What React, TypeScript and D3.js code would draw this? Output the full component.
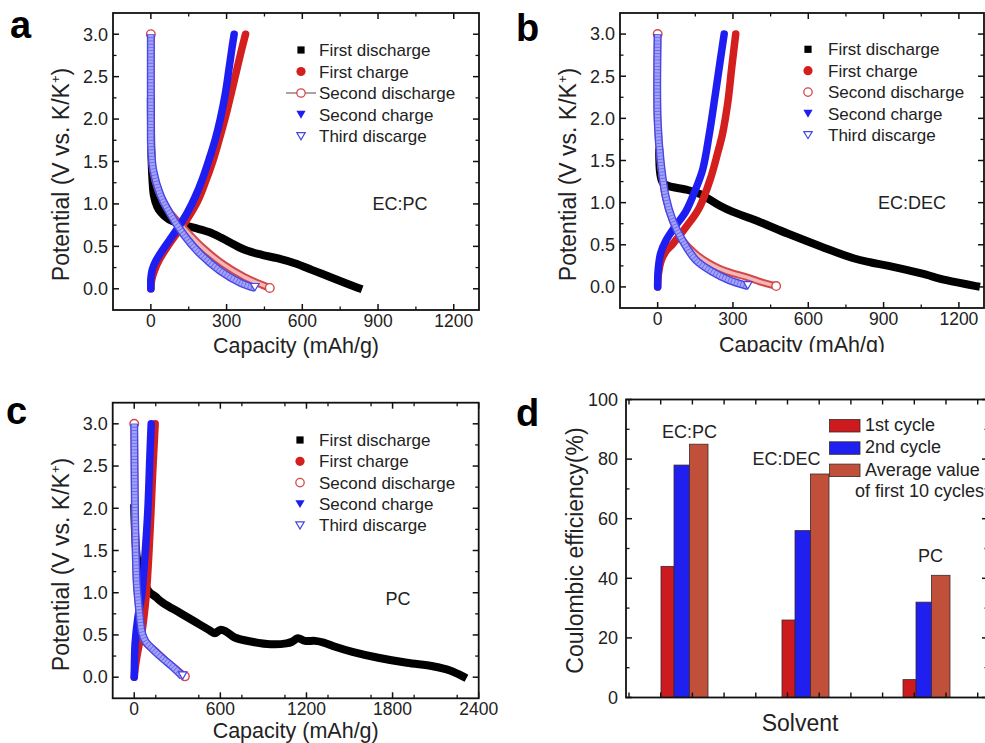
import React from 'react';
import * as d3 from 'd3';

type Pt = [number, number];

const FONT = '"Liberation Sans", Arial, Helvetica, sans-serif';

const seriesNames = ['First discharge', 'First charge', 'Second discharge', 'Second charge', 'Third discarge'];
const yTickValues = [0, 0.5, 1.0, 1.5, 2.0, 2.5, 3.0];
const xTicksAB = [0, 300, 600, 900, 1200];
const xTicksC = [0, 600, 1200, 1800, 2400];

// ---------- Panel a : EC:PC ----------
const aFirstDischarge: Pt[] = [[0, 2.2], [2, 1.6], [6, 1.3], [12, 1.1], [25, 0.97], [40, 0.9], [70, 0.82], [110, 0.77], [170, 0.72], [230, 0.67], [280, 0.6], [330, 0.52], [380, 0.45], [440, 0.4], [500, 0.36], [570, 0.3], [640, 0.22], [700, 0.15], [760, 0.08], [822, 0.01]];
const aFirstCharge: Pt[] = [[0, 0.0], [3, 0.1], [15, 0.22], [35, 0.35], [60, 0.47], [90, 0.6], [120, 0.72], [150, 0.85], [185, 1.03], [215, 1.25], [245, 1.5], [270, 1.75], [295, 2.02], [318, 2.3], [338, 2.55], [358, 2.8], [375, 3.0]];
const aSecondDischarge: Pt[] = [[0, 3.0], [0, 2.0], [1, 1.7], [8, 1.4], [30, 1.15], [70, 0.92], [129, 0.72], [200, 0.5], [287, 0.29], [370, 0.14], [430, 0.06], [471, 0.01]];
const aSecondCharge: Pt[] = [[0, 0.0], [0, 0.12], [5, 0.22], [20, 0.33], [45, 0.45], [75, 0.58], [110, 0.73], [145, 0.9], [175, 1.08], [205, 1.3], [230, 1.52], [255, 1.76], [275, 2.0], [295, 2.3], [310, 2.6], [322, 2.85], [330, 3.0]];
const aThirdDischarge: Pt[] = [[0, 3.0], [0, 2.0], [1, 1.66], [10, 1.39], [37, 1.11], [77, 0.88], [130, 0.64], [196, 0.41], [275, 0.21], [355, 0.07], [412, 0.01]];

// ---------- Panel b : EC:DEC ----------
const bFirstDischarge: Pt[] = [[6, 1.6], [10, 1.35], [20, 1.24], [40, 1.2], [120, 1.15], [170, 1.1], [200, 1.05], [250, 0.96], [300, 0.89], [390, 0.79], [520, 0.63], [650, 0.48], [780, 0.34], [850, 0.29], [920, 0.25], [1050, 0.16], [1150, 0.08], [1268, 0.01]];
const bFirstCharge: Pt[] = [[0, 0.0], [3, 0.15], [15, 0.32], [35, 0.43], [60, 0.51], [113, 0.71], [166, 0.94], [212, 1.3], [240, 1.6], [258, 1.81], [280, 2.2], [295, 2.6], [311, 3.0]];
const bSecondDischarge: Pt[] = [[0, 3.0], [0, 1.97], [12, 1.46], [32, 1.06], [58, 0.8], [95, 0.57], [130, 0.45], [160, 0.37], [200, 0.29], [245, 0.22], [300, 0.16], [351, 0.12], [410, 0.06], [472, 0.01]];
const bSecondCharge: Pt[] = [[0, 0.0], [2, 0.2], [12, 0.4], [33, 0.55], [70, 0.72], [113, 0.9], [150, 1.15], [180, 1.4], [205, 1.8], [228, 2.25], [250, 2.7], [265, 3.0]];
const bThirdDischarge: Pt[] = [[0, 3.0], [0, 1.97], [13, 1.46], [33, 1.06], [60, 0.79], [99, 0.55], [152, 0.32], [218, 0.18], [285, 0.08], [359, 0.01]];

// ---------- Panel c : PC ----------
const cFirstDischarge: Pt[] = [[0, 2.0], [20, 1.4], [45, 1.25], [100, 1.02], [150, 0.95], [200, 0.88], [320, 0.76], [430, 0.65], [520, 0.56], [560, 0.52], [600, 0.56], [640, 0.54], [700, 0.47], [820, 0.42], [950, 0.39], [1060, 0.4], [1100, 0.42], [1140, 0.46], [1190, 0.43], [1260, 0.43], [1320, 0.41], [1400, 0.36], [1520, 0.3], [1700, 0.23], [1900, 0.17], [2080, 0.13], [2200, 0.08], [2290, 0.01]];
const cFirstCharge: Pt[] = [[0, 0.0], [10, 0.15], [30, 0.35], [55, 0.55], [70, 0.75], [85, 1.0], [100, 1.4], [115, 1.9], [128, 2.4], [140, 2.8], [146, 3.0]];
const cSecondDischarge: Pt[] = [[0, 3.0], [2, 2.5], [5, 2.0], [10, 1.5], [18, 1.1], [28, 0.9], [40, 0.7], [55, 0.5], [85, 0.4], [140, 0.32], [210, 0.21], [280, 0.11], [353, 0.01]];
const cSecondCharge: Pt[] = [[0, 0.0], [2, 0.2], [6, 0.4], [25, 0.7], [50, 0.95], [73, 1.4], [95, 1.98], [108, 2.57], [118, 3.0]];
const cThirdDischarge: Pt[] = [[0, 3.0], [2, 2.5], [5, 2.0], [10, 1.5], [18, 1.1], [28, 0.9], [40, 0.7], [55, 0.52], [80, 0.42], [130, 0.33], [200, 0.22], [270, 0.12], [337, 0.01]];

// ---------- Panel d : Coulombic efficiency ----------
const solvents = ['EC:PC', 'EC:DEC', 'PC'];
const cycle1 = [44, 26, 6];
const cycle2 = [78, 56, 32];
const avgFirst10 = [85, 75, 41];
const barSeriesNames = ['1st cycle', '2nd cycle', 'Average value'];
const barLegendExtra = 'of first 10 cycles';
const effTicks = [0, 20, 40, 60, 80, 100];

// ---------- styles ----------
const C_BLACK = '#000000';
const C_RED = '#d41f1f';
const C_BLUE = '#1e1ef2';
const C_PINK_OUT = '#d44848';
const C_PINK_IN = '#f2b8b8';
const C_LAV_OUT = '#4646e6';
const C_LAV_IN = '#a3a3f8';
const C_LAV_DASH = '#6a6aee';
const BAR_COLORS = ['#cc1a1e', '#1f1ff0', '#c1503b'];
const BAR_WIDTHS = [13, 15.5, 18.5];

type PanelCfg = {
  l: number; t: number; r: number; b: number;
  xDomain: [number, number]; xTicks: number[]; xMinorStep: number;
  series: Pt[][];
  legend: { mx: number; tx: number; y0: number; dy: number; lineOnOpen: boolean };
  annot: { text: string; x: number; y: number };
  label: { text: string; x: number; y: number };
  yTitleX: number; yTitleDy: number; xTitleY: number;
  clipBottom?: number; id: string;
};

const panels: PanelCfg[] = [
  {
    id: 'a', l: 113, t: 13, r: 479, b: 310, xDomain: [-150, 1300], xTicks: xTicksAB, xMinorStep: 150,
    series: [aFirstDischarge, aFirstCharge, aSecondDischarge, aSecondCharge, aThirdDischarge],
    legend: { mx: 301, tx: 319, y0: 50, dy: 21.5, lineOnOpen: true },
    annot: { text: 'EC:PC', x: 400, y: 210 }, label: { text: 'a', x: 10, y: 38 },
    yTitleX: 69, yTitleDy: 13, xTitleY: 353,
  },
  {
    id: 'b', l: 620, t: 13, r: 984, b: 308, xDomain: [-150, 1300], xTicks: xTicksAB, xMinorStep: 150,
    series: [bFirstDischarge, bFirstCharge, bSecondDischarge, bSecondCharge, bThirdDischarge],
    legend: { mx: 808, tx: 828, y0: 49.3, dy: 21.4, lineOnOpen: false },
    annot: { text: 'EC:DEC', x: 912, y: 209 }, label: { text: 'b', x: 516, y: 41 },
    yTitleX: 576, yTitleDy: 14, xTitleY: 352, clipBottom: 352,
  },
  {
    id: 'c', l: 112.7, t: 402.7, r: 478.7, b: 698.3, xDomain: [-150, 2400], xTicks: xTicksC, xMinorStep: 300,
    series: [cFirstDischarge, cFirstCharge, cSecondDischarge, cSecondCharge, cThirdDischarge],
    legend: { mx: 300, tx: 319, y0: 440, dy: 21.3, lineOnOpen: false },
    annot: { text: 'PC', x: 398, y: 605 }, label: { text: 'c', x: 6, y: 424 },
    yTitleX: 69, yTitleDy: 14, xTitleY: 737.5,
  },
];

function downTri(cx: number, cy: number, s: number) {
  return `M${cx - s},${cy - s * 0.8}L${cx + s},${cy - s * 0.8}L${cx},${cy + s * 0.9}Z`;
}

function Marker({ kind, x, y, withLine }: { kind: number; x: number; y: number; withLine?: boolean }) {
  if (kind === 0) return <rect x={x - 3.6} y={y - 3.6} width={7.2} height={7.2} fill={C_BLACK} />;
  if (kind === 1) return <circle cx={x} cy={y} r={4.6} fill={C_RED} />;
  if (kind === 2)
    return (
      <g>
        {withLine && <line x1={x - 15} x2={x + 15} y1={y} y2={y} stroke="#8d6a6a" strokeWidth={1.3} />}
        <circle cx={x} cy={y} r={4.2} fill="#fff" stroke={C_PINK_OUT} strokeWidth={1.3} />
      </g>
    );
  if (kind === 3) return <path d={downTri(x, y, 4.6)} fill={C_BLUE} />;
  return <path d={downTri(x, y, 4.2)} fill="#fff" stroke={C_LAV_OUT} strokeWidth={1.2} />;
}

function CurvePanel({ cfg }: { cfg: PanelCfg }) {
  const x = d3.scaleLinear().domain(cfg.xDomain).range([cfg.l, cfg.r]);
  const y = d3.scaleLinear().domain([-0.25, 3.25]).range([cfg.b, cfg.t]);
  const line = d3.line<Pt>().x((d) => x(d[0])).y((d) => y(d[1])).curve(d3.curveCatmullRom.alpha(0.5));
  const fmt = d3.format('.1f');
  const xMinor = d3.range(cfg.xDomain[0], cfg.xDomain[1] + 1, cfg.xMinorStep)
    .filter((v) => v > cfg.xDomain[0] && v < cfg.xDomain[1] && !cfg.xTicks.includes(v));
  const yMinor = d3.range(0, 3.01, 0.25).filter((v) => !yTickValues.some((t) => Math.abs(t - v) < 1e-6));
  const [fd, fc, sd, sc, td] = cfg.series;
  const clipId = `clip-${cfg.id}`;
  const plotClip = `plot-${cfg.id}`;
  const sdEnd = sd[sd.length - 1];
  const sdStart = sd[0];
  const tdEnd = td[td.length - 1];
  const cx = (cfg.l + cfg.r) / 2;
  const cy = (cfg.t + cfg.b) / 2 + cfg.yTitleDy;
  return (
    <g clipPath={cfg.clipBottom ? `url(#${clipId})` : undefined}>
      <defs>
        {cfg.clipBottom && (
          <clipPath id={clipId}>
            <rect x={cfg.l - 200} y={0} width={600} height={cfg.clipBottom} />
          </clipPath>
        )}
        <clipPath id={plotClip}>
          <rect x={cfg.l} y={cfg.t} width={cfg.r - cfg.l} height={cfg.b - cfg.t} />
        </clipPath>
      </defs>
      <g clipPath={`url(#${plotClip})`}>
        <path d={line(fd) || ''} fill="none" stroke={C_BLACK} strokeWidth={8} strokeLinejoin="round" strokeLinecap="square" />
        <path d={line(fc) || ''} fill="none" stroke={C_RED} strokeWidth={7.5} strokeLinejoin="round" strokeLinecap="round" />
        <path d={line(sd) || ''} fill="none" stroke={C_PINK_OUT} strokeWidth={7.5} strokeLinejoin="round" strokeLinecap="round" />
        <path d={line(sd) || ''} fill="none" stroke={C_PINK_IN} strokeWidth={3.5} strokeLinejoin="round" />
        <circle cx={x(sdEnd[0])} cy={y(sdEnd[1])} r={4.3} fill="#fff" stroke={C_PINK_OUT} strokeWidth={1.4} />
        <circle cx={x(sdStart[0])} cy={y(sdStart[1])} r={4.3} fill="#fff" stroke={C_PINK_OUT} strokeWidth={1.4} />
        <path d={line(sc) || ''} fill="none" stroke={C_BLUE} strokeWidth={7.5} strokeLinejoin="round" strokeLinecap="round" />
        <path d={line(td) || ''} fill="none" stroke={C_LAV_OUT} strokeWidth={8} strokeLinejoin="round" />
        <path d={line(td) || ''} fill="none" stroke={C_LAV_IN} strokeWidth={5.2} strokeLinejoin="round" />
        <path d={line(td) || ''} fill="none" stroke={C_LAV_DASH} strokeWidth={5.2} strokeDasharray="0.9 2.3" />
        <path d={downTri(x(tdEnd[0]), y(tdEnd[1]) - 1, 4.3)} fill="#fff" stroke={C_LAV_OUT} strokeWidth={1.2} />
      </g>
      {/* frame */}
      <rect x={cfg.l} y={cfg.t} width={cfg.r - cfg.l} height={cfg.b - cfg.t} fill="none" stroke="#111" strokeWidth={1.8} />
      {/* x ticks */}
      {cfg.xTicks.map((v) => (
        <g key={'xt' + v}>
          <line x1={x(v)} x2={x(v)} y1={cfg.b} y2={cfg.b - 6} stroke="#111" strokeWidth={1.5} />
          <line x1={x(v)} x2={x(v)} y1={cfg.t} y2={cfg.t + 6} stroke="#111" strokeWidth={1.5} />
          <text x={x(v)} y={cfg.b + 17} textAnchor="middle" fontSize={17.5} fontFamily={FONT} fill="#222">{v}</text>
        </g>
      ))}
      {xMinor.map((v) => (
        <g key={'xm' + v}>
          <line x1={x(v)} x2={x(v)} y1={cfg.b} y2={cfg.b - 3.5} stroke="#111" strokeWidth={1.3} />
          <line x1={x(v)} x2={x(v)} y1={cfg.t} y2={cfg.t + 3.5} stroke="#111" strokeWidth={1.3} />
        </g>
      ))}
      {/* y ticks */}
      {yTickValues.map((v) => (
        <g key={'yt' + v}>
          <line x1={cfg.l} x2={cfg.l + 6} y1={y(v)} y2={y(v)} stroke="#111" strokeWidth={1.5} />
          <line x1={cfg.r} x2={cfg.r - 6} y1={y(v)} y2={y(v)} stroke="#111" strokeWidth={1.5} />
          <text x={cfg.l - 5} y={y(v) + 6.3} textAnchor="end" fontSize={18} fontFamily={FONT} fill="#222">{fmt(v)}</text>
        </g>
      ))}
      {yMinor.map((v) => (
        <g key={'ym' + v}>
          <line x1={cfg.l} x2={cfg.l + 3.5} y1={y(v)} y2={y(v)} stroke="#111" strokeWidth={1.3} />
          <line x1={cfg.r} x2={cfg.r - 3.5} y1={y(v)} y2={y(v)} stroke="#111" strokeWidth={1.3} />
        </g>
      ))}
      {/* axis titles */}
      <text x={cx} y={cfg.xTitleY} textAnchor="middle" fontSize={21.5} fontFamily={FONT} fill="#222">Capacity (mAh/g)</text>
      <text transform={`translate(${cfg.yTitleX},${cy}) rotate(-90)`} textAnchor="middle" fontSize={23} fontFamily={FONT} fill="#222">
        Potential (V vs. K/K<tspan fontSize={13} dy={-9}>+</tspan><tspan dy={9}>)</tspan>
      </text>
      {/* legend */}
      {seriesNames.map((name, i) => {
        const ly = cfg.legend.y0 + i * cfg.legend.dy;
        return (
          <g key={name}>
            <Marker kind={i} x={cfg.legend.mx} y={ly} withLine={cfg.legend.lineOnOpen} />
            <text x={cfg.legend.tx} y={ly + 6} fontSize={17} fontFamily={FONT} fill="#222">{name}</text>
          </g>
        );
      })}
      <text x={cfg.annot.x} y={cfg.annot.y} textAnchor="middle" fontSize={18} fontFamily={FONT} fill="#222">{cfg.annot.text}</text>
      <text x={cfg.label.x} y={cfg.label.y} fontSize={38} fontWeight="bold" fontFamily={FONT} fill="#000">{cfg.label.text}</text>
    </g>
  );
}

function BarPanel() {
  const L = 626, T = 399.5, R = 988, B = 697.5;
  const y = d3.scaleLinear().domain([0, 100]).range([B, T]);
  const xg = d3.scaleBand<string>().domain(solvents).range([624, 987]);
  const xt = d3.scaleLinear().domain([0, 11.5]).range([L + 3, L + 3 + 11.5 * 31.7]);
  const series = [cycle1, cycle2, avgFirst10];
  const totalW = BAR_WIDTHS.reduce((a, b) => a + b, 0);
  const labelDx = [5, -19, 4];
  const labelDy = [-6, -8.6, -13];
  const yMinor = d3.range(10, 100, 20);
  const xTickVals = d3.range(0, 12, 1);
  return (
    <g>
      {solvents.map((s, gi) => {
        const center = (xg(s) || 0) + xg.bandwidth() / 2;
        let x0 = center - totalW / 2;
        return (
          <g key={s}>
            {series.map((vals, si) => {
              const bx = x0;
              x0 += BAR_WIDTHS[si];
              return (
                <rect key={si} x={bx} y={y(vals[gi])} width={BAR_WIDTHS[si]} height={B - y(vals[gi])}
                  fill={BAR_COLORS[si]} stroke="#3a2a2a" strokeWidth={0.8} />
              );
            })}
            <text x={center + labelDx[gi]} y={y(Math.max(cycle1[gi], cycle2[gi], avgFirst10[gi])) + labelDy[gi]}
              textAnchor="middle" fontSize={18} fontFamily={FONT} fill="#222">{s}</text>
          </g>
        );
      })}
      <rect x={L} y={T} width={R - L} height={B - T} fill="none" stroke="#111" strokeWidth={1.8} />
      {effTicks.map((v) => (
        <g key={'e' + v}>
          <line x1={L} x2={L + 6} y1={y(v)} y2={y(v)} stroke="#111" strokeWidth={1.5} />
          <line x1={R} x2={R - 6} y1={y(v)} y2={y(v)} stroke="#111" strokeWidth={1.5} />
          <text x={L - 8} y={y(v) + 6.3} textAnchor="end" fontSize={18} fontFamily={FONT} fill="#222">{v}</text>
        </g>
      ))}
      {yMinor.map((v) => (
        <g key={'em' + v}>
          <line x1={L} x2={L + 3.5} y1={y(v)} y2={y(v)} stroke="#111" strokeWidth={1.3} />
          <line x1={R} x2={R - 3.5} y1={y(v)} y2={y(v)} stroke="#111" strokeWidth={1.3} />
        </g>
      ))}
      {xTickVals.map((v) => (
        <g key={'xt' + v}>
          <line x1={xt(v)} x2={xt(v)} y1={B} y2={B - 5} stroke="#111" strokeWidth={1.4} />
          <line x1={xt(v)} x2={xt(v)} y1={T} y2={T + 5} stroke="#111" strokeWidth={1.4} />
        </g>
      ))}
      <text x={800} y={731} textAnchor="middle" fontSize={23} fontFamily={FONT} fill="#222">Solvent</text>
      <text transform={`translate(583,${(T + B) / 2 + 2}) rotate(-90)`} textAnchor="middle" fontSize={23} fontFamily={FONT} fill="#222">
        Coulombic efficiency(%)
      </text>
      {barSeriesNames.map((n, i) => (
        <g key={n}>
          <rect x={829.5} y={419.5 + i * 22.3} width={30.5} height={12.5} fill={BAR_COLORS[i]} stroke="#3a2a2a" strokeWidth={0.8} />
          <text x={865} y={431 + i * 22.3} fontSize={18} fontFamily={FONT} fill="#222">{n}</text>
        </g>
      ))}
      <text x={855} y={497} fontSize={18} fontFamily={FONT} fill="#222">{barLegendExtra}</text>
      <text x={516} y={426} fontSize={38} fontWeight="bold" fontFamily={FONT} fill="#000">d</text>
    </g>
  );
}

export default function App() {
  return (
    <svg width={985} height={743} viewBox="0 0 985 743"
      style={{ position: 'absolute', left: 0, top: 0, background: '#fff' }}>
      <rect x={0} y={0} width={985} height={743} fill="#fff" />
      {panels.map((p) => <CurvePanel key={p.id} cfg={p} />)}
      <BarPanel />
    </svg>
  );
}
